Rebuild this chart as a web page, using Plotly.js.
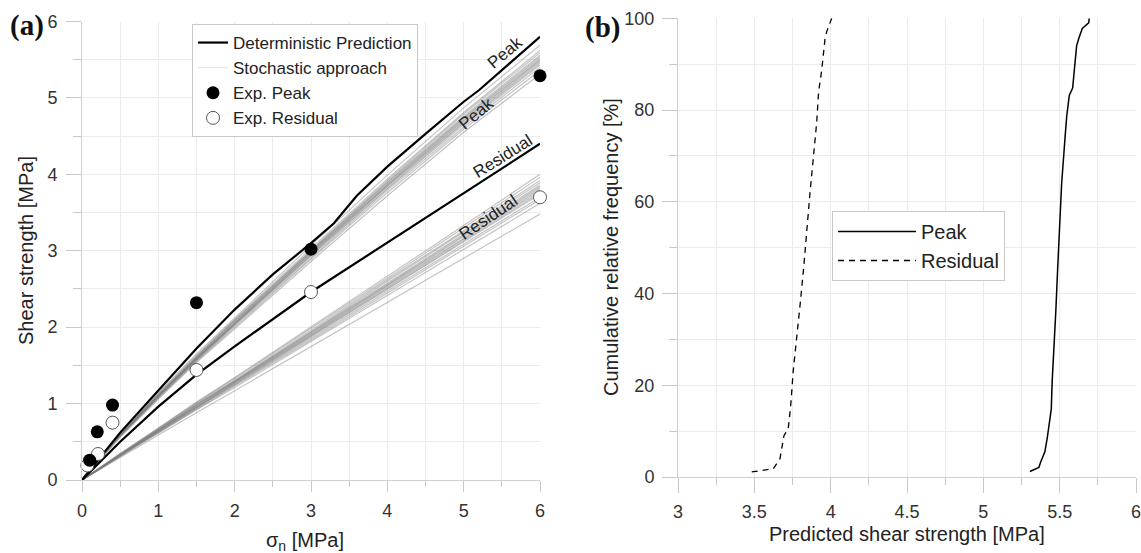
<!DOCTYPE html>
<html><head><meta charset="utf-8">
<script src="https://cdn.plot.ly/plotly-3.0.1.min.js"></script>
<style>html,body{margin:0;padding:0;background:#fff}#chart{width:1141px;height:553px}</style>
</head><body><div id="chart"></div>
<script>
// ---------- Panel (a) data ----------
const detPeakSigma = [0, 0.5, 1, 1.5, 2, 2.5, 3, 3.3, 3.6, 4, 4.5, 5, 5.2, 6];
const detPeakTau   = [0, 0.62, 1.17, 1.72, 2.23, 2.69, 3.1, 3.36, 3.72, 4.1, 4.53, 4.95, 5.1, 5.8];
const detResSigma  = [0, 0.5, 1, 1.5, 2, 3, 6];
const detResTau    = [0, 0.5, 0.96, 1.38, 1.75, 2.46, 4.4];

const expPeakSigma = [0.1, 0.2, 0.4, 1.5, 3, 6];
const expPeakTau   = [0.26, 0.63, 0.98, 2.32, 3.02, 5.29];
const expResSigma  = [0.07, 0.21, 0.4, 1.5, 3, 6];
const expResTau    = [0.19, 0.34, 0.75, 1.44, 2.46, 3.7];

const sigmaGrid = [0, 0.5, 1, 1.5, 2, 3, 4, 5, 6];
const peakStochastic = [
  [0, 0.56, 1.06, 1.54, 1.98, 2.86, 3.72, 4.55, 5.31],
  [0, 0.57, 1.07, 1.55, 2.00, 2.89, 3.76, 4.59, 5.36],
  [0, 0.57, 1.08, 1.56, 2.02, 2.91, 3.79, 4.62, 5.40],
  [0, 0.57, 1.09, 1.57, 2.03, 2.93, 3.81, 4.65, 5.43],
  [0, 0.58, 1.09, 1.58, 2.04, 2.94, 3.82, 4.67, 5.45],
  [0, 0.58, 1.10, 1.58, 2.04, 2.95, 3.84, 4.68, 5.47],
  [0, 0.58, 1.10, 1.59, 2.05, 2.96, 3.85, 4.70, 5.49],
  [0, 0.58, 1.10, 1.59, 2.05, 2.97, 3.86, 4.71, 5.50],
  [0, 0.58, 1.11, 1.60, 2.06, 2.98, 3.87, 4.73, 5.52],
  [0, 0.59, 1.11, 1.60, 2.07, 2.99, 3.89, 4.74, 5.54],
  [0, 0.59, 1.11, 1.61, 2.08, 3.00, 3.90, 4.76, 5.56],
  [0, 0.59, 1.12, 1.62, 2.09, 3.01, 3.92, 4.79, 5.59],
  [0, 0.59, 1.13, 1.63, 2.10, 3.03, 3.94, 4.81, 5.62],
  [0, 0.60, 1.14, 1.65, 2.12, 3.07, 3.99, 4.87, 5.69]
];
const residualStochastic = [
  [0, 0.30, 0.59, 0.88, 1.17, 1.74, 2.32, 2.90, 3.48],
  [0, 0.31, 0.62, 0.92, 1.21, 1.81, 2.42, 3.01, 3.62],
  [0, 0.32, 0.62, 0.93, 1.23, 1.83, 2.45, 3.06, 3.67],
  [0, 0.32, 0.63, 0.94, 1.24, 1.85, 2.47, 3.08, 3.70],
  [0, 0.32, 0.64, 0.95, 1.25, 1.87, 2.50, 3.11, 3.74],
  [0, 0.32, 0.64, 0.95, 1.26, 1.88, 2.51, 3.13, 3.76],
  [0, 0.33, 0.64, 0.96, 1.27, 1.89, 2.52, 3.15, 3.78],
  [0, 0.33, 0.65, 0.96, 1.27, 1.90, 2.54, 3.16, 3.80],
  [0, 0.33, 0.65, 0.97, 1.28, 1.91, 2.55, 3.18, 3.82],
  [0, 0.33, 0.65, 0.98, 1.29, 1.92, 2.56, 3.20, 3.84],
  [0, 0.33, 0.66, 0.98, 1.29, 1.93, 2.58, 3.21, 3.86],
  [0, 0.34, 0.66, 0.99, 1.30, 1.94, 2.60, 3.24, 3.89],
  [0, 0.34, 0.67, 1.00, 1.31, 1.96, 2.62, 3.26, 3.92],
  [0, 0.34, 0.67, 1.01, 1.33, 1.98, 2.64, 3.30, 3.96],
  [0, 0.35, 0.68, 1.02, 1.34, 2.00, 2.67, 3.33, 4.00]
];

// ---------- Panel (b) data ----------
const peakCdfStrength = [5.305, 5.364, 5.375, 5.403, 5.419, 5.432, 5.445, 5.451, 5.462, 5.475, 5.487, 5.493, 5.500, 5.513, 5.524, 5.537, 5.546, 5.563, 5.585, 5.600, 5.611, 5.624, 5.648, 5.690, 5.694];
const peakCdfFreq     = [1.2, 2.1, 3.2, 5.5, 8.6, 11.7, 14.8, 20.9, 27.1, 36.3, 45.5, 51.7, 54.8, 64.0, 70.2, 74.8, 78.6, 83.2, 84.8, 90.2, 94.0, 95.5, 97.8, 99.0, 100];
const resCdfStrength  = [3.483, 3.624, 3.668, 3.694, 3.722, 3.738, 3.755, 3.781, 3.803, 3.825, 3.843, 3.864, 3.886, 3.908, 3.921, 3.941, 3.963, 3.974, 4.007];
const resCdfFreq      = [1.1, 1.8, 4.0, 9.0, 10.5, 15.5, 23.2, 30.9, 38.6, 46.3, 54.0, 61.7, 69.4, 77.1, 84.0, 88.6, 95.5, 97.1, 100];

// ---------- Traces ----------
const FONT = 'Liberation Sans, Arial, sans-serif';
const TXT = '#222';
const stochColor = 'rgba(125,125,125,0.45)';
const traces = [];

peakStochastic.forEach((ys) => traces.push({
  x: sigmaGrid, y: ys, xaxis: 'x', yaxis: 'y', mode: 'lines', type: 'scatter',
  line: {color: stochColor, width: 1.2}, name: 'Stochastic approach',
  showlegend: false, legendgroup: 'stoch'
}));
residualStochastic.forEach((ys) => traces.push({
  x: sigmaGrid, y: ys, xaxis: 'x', yaxis: 'y', mode: 'lines', type: 'scatter',
  line: {color: stochColor, width: 1.2}, name: 'Stochastic approach',
  showlegend: false, legendgroup: 'stoch'
}));
// legend entry for the stochastic family (uses the first stochastic curve, drawn underneath)
traces.push({
  x: sigmaGrid, y: peakStochastic[0], xaxis: 'x', yaxis: 'y', mode: 'lines', type: 'scatter',
  line: {color: 'rgba(200,200,200,0.5)', width: 1}, name: 'Stochastic approach',
  showlegend: true, legendrank: 2, legendgroup: 'stoch', legend: 'legend'
});

traces.push({x: detPeakSigma, y: detPeakTau, xaxis: 'x', yaxis: 'y', mode: 'lines', type: 'scatter',
  line: {color: '#000', width: 2.2}, name: 'Deterministic Prediction', legendrank: 1, legendgroup: 'det', legend: 'legend'});
traces.push({x: detResSigma, y: detResTau, xaxis: 'x', yaxis: 'y', mode: 'lines', type: 'scatter',
  line: {color: '#000', width: 2.2}, name: 'Deterministic Prediction', showlegend: false, legendgroup: 'det'});

traces.push({x: expResSigma, y: expResTau, xaxis: 'x', yaxis: 'y', mode: 'markers', type: 'scatter', cliponaxis: false,
  marker: {symbol: 'circle', size: 13, color: '#fff', line: {color: '#555', width: 1}},
  name: 'Exp. Residual', legendrank: 4, legend: 'legend'});
traces.push({x: expPeakSigma, y: expPeakTau, xaxis: 'x', yaxis: 'y', mode: 'markers', type: 'scatter', cliponaxis: false,
  marker: {symbol: 'circle', size: 13, color: '#000', line: {color: '#000', width: 0}},
  name: 'Exp. Peak', legendrank: 3, legend: 'legend'});

traces.push({x: peakCdfStrength, y: peakCdfFreq, xaxis: 'x2', yaxis: 'y2', mode: 'lines', type: 'scatter',
  line: {color: '#000', width: 1.5}, name: 'Peak', legend: 'legend2'});
traces.push({x: resCdfStrength, y: resCdfFreq, xaxis: 'x2', yaxis: 'y2', mode: 'lines', type: 'scatter',
  line: {color: '#000', width: 1.3, dash: '6px,5px'}, name: 'Residual', legend: 'legend2'});

const W = 1141, H = 553;
const px = v => v / W, py = v => (H - v) / H;

const gridC = '#ebebeb', tickC = '#c8c8c8', lineC = '#d0d0d0';
function axis(o) {
  return Object.assign({
    showgrid: true, gridcolor: gridC, gridwidth: 1, zeroline: false,
    showline: true, linecolor: lineC, linewidth: 1,
    ticks: 'outside', tickcolor: tickC, tickwidth: 1, ticklabeloverflow: 'allow',
    tickfont: {family: FONT, size: 18, color: '#333'}, fixedrange: true
  }, o);
}

const layout = {
  width: W, height: H,
  margin: {l: 0, r: 0, t: 0, b: 0, pad: 0},
  paper_bgcolor: '#fff', plot_bgcolor: '#fff',
  font: {family: FONT, color: TXT},
  hovermode: false,
  xaxis: axis({domain: [px(82), px(540)], range: [0, 6], tick0: 0, dtick: 1, ticklen: 11, anchor: 'y',
    ticklabelstandoff: 3,
    minor: {dtick: 0.5, ticks: 'outside', ticklen: 6, tickcolor: tickC, showgrid: true, gridcolor: gridC}}),
  yaxis: axis({domain: [1 - 480 / H, 1 - 21.5 / H], range: [0, 6], tick0: 0, dtick: 1, ticklen: 15, anchor: 'x',
    ticklabelstandoff: 5,
    minor: {dtick: 0.5, ticks: 'outside', ticklen: 8, tickcolor: tickC, showgrid: true, gridcolor: gridC}}),
  xaxis2: axis({domain: [px(678), px(1136)], range: [3, 6], tick0: 3, dtick: 0.5, ticklen: 15, anchor: 'y2',
    ticklabelstandoff: 3,
    minor: {dtick: 0.25, ticks: 'outside', ticklen: 7, tickcolor: tickC, showgrid: true, gridcolor: gridC}}),
  yaxis2: axis({domain: [1 - 477 / H, 1 - 18.3 / H], range: [0, 100], tick0: 0, dtick: 20, ticklen: 15, anchor: 'x2',
    ticklabelstandoff: 4,
    minor: {dtick: 10, ticks: 'outside', ticklen: 8, tickcolor: tickC, showgrid: true, gridcolor: gridC}}),
  legend: {x: px(192), y: py(24), xanchor: 'left', yanchor: 'top', bgcolor: '#fff',
    bordercolor: '#c8c8c8', borderwidth: 1, font: {family: FONT, size: 17, color: TXT},
    traceorder: 'normal', tracegroupgap: 0},
  legend2: {x: px(832), y: py(211), xanchor: 'left', yanchor: 'top', bgcolor: '#fff',
    bordercolor: '#c8c8c8', borderwidth: 1, font: {family: FONT, size: 20, color: TXT},
    itemwidth: 78},
  annotations: [
    {xref: 'x', yref: 'y', x: 5.54, y: 5.60, text: 'Peak', textangle: -40, showarrow: false, font: {family: FONT, size: 17, color: TXT}},
    {xref: 'x', yref: 'y', x: 5.17, y: 4.79, text: 'Peak', textangle: -40, showarrow: false, font: {family: FONT, size: 17, color: TXT}},
    {xref: 'x', yref: 'y', x: 5.51, y: 4.23, text: 'Residual', textangle: -32, showarrow: false, font: {family: FONT, size: 17, color: TXT}},
    {xref: 'x', yref: 'y', x: 5.32, y: 3.44, text: 'Residual', textangle: -34, showarrow: false, font: {family: FONT, size: 17, color: TXT}},
    {xref: 'paper', yref: 'paper', x: px(8), y: py(26), xanchor: 'left', yanchor: 'middle', text: '<b>(a)</b>', showarrow: false,
      font: {family: 'Liberation Serif, Times New Roman, serif', size: 29, color: '#111'}},
    {xref: 'paper', yref: 'paper', x: px(583), y: py(27), xanchor: 'left', yanchor: 'middle', text: '<b>(b)</b>', showarrow: false,
      font: {family: 'Liberation Serif, Times New Roman, serif', size: 29, color: '#111'}},
    {xref: 'paper', yref: 'paper', x: px(26), y: py(251), xanchor: 'center', yanchor: 'middle', text: 'Shear strength [MPa]', textangle: -90, showarrow: false,
      font: {family: FONT, size: 20, color: TXT}},
    {xref: 'paper', yref: 'paper', x: px(305), y: py(541), xanchor: 'center', yanchor: 'middle', text: 'σ<sub>n</sub> [MPa]', showarrow: false,
      font: {family: FONT, size: 20, color: TXT}},
    {xref: 'paper', yref: 'paper', x: px(611), y: py(247), xanchor: 'center', yanchor: 'middle', text: 'Cumulative relative frequency [%]', textangle: -90, showarrow: false,
      font: {family: FONT, size: 20, color: TXT}},
    {xref: 'paper', yref: 'paper', x: px(907), y: py(534), xanchor: 'center', yanchor: 'middle', text: 'Predicted shear strength [MPa]', showarrow: false,
      font: {family: FONT, size: 20, color: TXT}}
  ]
};

Plotly.newPlot('chart', traces, layout, {staticPlot: true, displayModeBar: false});
</script>
</body></html>
